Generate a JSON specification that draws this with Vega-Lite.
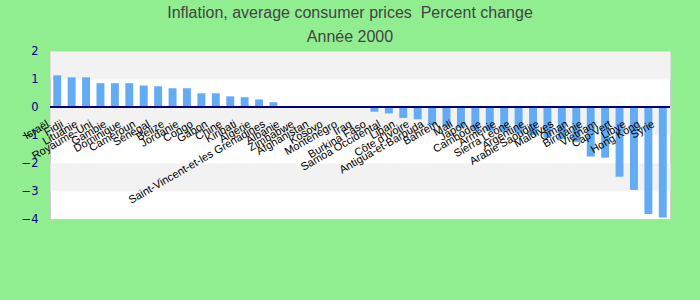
{
  "$schema": "https://vega.github.io/schema/vega-lite/v6.json",
  "width": 620,
  "height": 168,
  "autosize": "none",
  "padding": {"left": 50, "top": 51, "right": 30, "bottom": 81},
  "background": "#90ee90",
  "title": {
    "text": ["Inflation, average consumer prices \u00a0Percent change", "Année 2000"],
    "font": "Liberation Sans",
    "fontSize": 16,
    "fontWeight": "normal",
    "color": "#444444",
    "lineHeight": 24,
    "offset": 0,
    "anchor": "middle",
    "dx": -10
  },
  "config": {
    "view": {"stroke": "#cccccc", "strokeWidth": 1, "fill": "white"}
  },
  "data": {
    "values": [
      {"pays": "Israël", "valeur": 1.13},
      {"pays": "Fidji", "valeur": 1.06},
      {"pays": "Lituanie", "valeur": 1.06},
      {"pays": "Royaume-Uni", "valeur": 0.85},
      {"pays": "Gambie", "valeur": 0.85},
      {"pays": "Dominique", "valeur": 0.85},
      {"pays": "Cameroun", "valeur": 0.77},
      {"pays": "Sénégal", "valeur": 0.74},
      {"pays": "Belize", "valeur": 0.67},
      {"pays": "Jordanie", "valeur": 0.67},
      {"pays": "Congo", "valeur": 0.49},
      {"pays": "Gabon", "valeur": 0.49},
      {"pays": "Chine", "valeur": 0.38},
      {"pays": "Kiribati", "valeur": 0.35},
      {"pays": "Algérie", "valeur": 0.27},
      {"pays": "Saint-Vincent-et-les Grenadines", "valeur": 0.17},
      {"pays": "Albanie", "valeur": 0.03},
      {"pays": "Zimbabwe", "valeur": 0},
      {"pays": "Afghanistan", "valeur": 0},
      {"pays": "Kosovo", "valeur": 0},
      {"pays": "Monténégro", "valeur": 0},
      {"pays": "Iraq", "valeur": 0},
      {"pays": "Burkina Faso", "valeur": -0.17},
      {"pays": "Samoa Occidental", "valeur": -0.23},
      {"pays": "Liban", "valeur": -0.39},
      {"pays": "Côte d'Ivoire", "valeur": -0.44},
      {"pays": "Antigua-et-Barbuda", "valeur": -0.65},
      {"pays": "Bahreïn", "valeur": -0.7},
      {"pays": "Mali", "valeur": -0.75},
      {"pays": "Japon", "valeur": -0.8},
      {"pays": "Cambodge", "valeur": -0.85},
      {"pays": "Arménie", "valeur": -0.9},
      {"pays": "Sierra Leone", "valeur": -0.95},
      {"pays": "Argentine", "valeur": -1.0},
      {"pays": "Arabie Saoudite", "valeur": -1.1},
      {"pays": "Maldives", "valeur": -1.15},
      {"pays": "Oman", "valeur": -1.25},
      {"pays": "Birmanie", "valeur": -1.77},
      {"pays": "Vietnam", "valeur": -1.81},
      {"pays": "Cap-Vert", "valeur": -2.49},
      {"pays": "Libye", "valeur": -2.96},
      {"pays": "Hong Kong", "valeur": -3.82},
      {"pays": "Syrie", "valeur": -3.95}
    ]
  },
  "layer": [
    {
      "mark": {"type": "bar", "color": "#63abf2"},
      "encoding": {
        "x": {
          "field": "pays",
          "type": "nominal",
          "sort": null,
          "scale": {"paddingInner": 0.45, "paddingOuter": 0.225},
          "axis": {
            "title": null,
            "orient": "bottom",
            "offset": -112,
            "domain": false,
            "ticks": false,
            "labelAngle": -30,
            "labelAlign": "right",
            "labelBaseline": "middle",
            "labelPadding": 16,
            "labelOffset": -9,
            "labelOverlap": false,
            "labelBound": false,
            "labelLimit": 0,
            "labelFont": "Liberation Sans",
            "labelFontSize": 11,
            "labelColor": "#000000",
            "zindex": 1
          }
        },
        "y": {
          "field": "valeur",
          "type": "quantitative",
          "scale": {"domain": [-4, 2], "nice": false, "zero": false},
          "axis": {
            "title": null,
            "values": [-4, -3, -2, -1, 0, 1, 2],
            "grid": false,
            "domain": false,
            "ticks": false,
            "labelPadding": 12,
            "labelFont": "DejaVu Sans",
            "labelFontSize": 11.5,
            "labelColor": "#000080"
          }
        }
      }
    },
    {
      "mark": {"type": "rule", "color": "#000080", "strokeWidth": 1.5},
      "encoding": {
        "y": {
          "datum": 0,
          "type": "quantitative",
          "axis": {
            "orient": "right",
            "title": null,
            "values": [1.5, -0.5, -2.5],
            "grid": true,
            "gridWidth": 28,
            "gridColor": "#f2f2f2",
            "gridOpacity": 1,
            "labels": false,
            "ticks": false,
            "domain": false
          }
        }
      }
    }
  ],
  "resolve": {"axis": {"y": "independent"}}
}
